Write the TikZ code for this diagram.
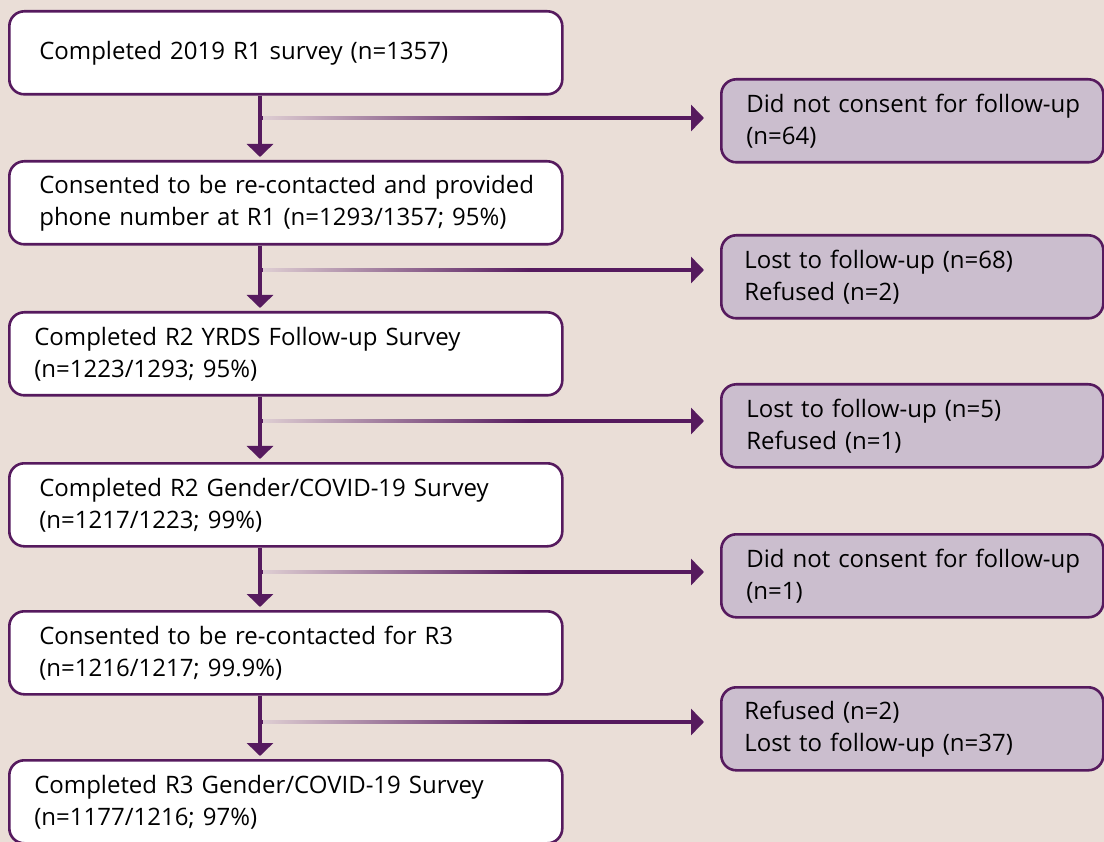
\documentclass[tikz,border=0pt]{standalone}
\usepackage{fontspec}
\setmainfont{Open Sans}
\usetikzlibrary{arrows.meta}
\definecolor{bg}{RGB}{234,222,215}
\definecolor{pp}{RGB}{86,26,94}
\definecolor{lp}{RGB}{203,190,206}
\definecolor{fade}{RGB}{222,205,210}
\newcommand{\oneline}[1]{\mbox{#1}}
\tikzset{
  x=1pt, y=-1pt,
  mainbox/.style={draw=pp, line width=2.6pt, fill=white, rounded corners=15pt,
    minimum width=553pt, minimum height=83pt, inner xsep=30pt, inner ysep=0pt,
    text width=493pt, align=left, anchor=north west,
    font=\fontsize{24}{32}\selectfont},
  sidebox/.style={draw=pp, line width=2.6pt, fill=lp, rounded corners=15pt,
    minimum width=382pt, minimum height=83pt, inner xsep=25pt, inner ysep=0pt,
    text width=332pt, align=left, anchor=north west,
    font=\fontsize{24}{32}\selectfont},
  flow/.style={draw=pp, line width=3.6pt, -{Triangle[length=13pt,width=26pt]}},
}
\begin{document}
\begin{tikzpicture}
\fill[bg] (0,0) rectangle (1104,842);
\useasboundingbox (0,0) rectangle (1104,842);
% main boxes
\node[mainbox] (m1) at (8,10) {\oneline{Completed 2019 R1 survey (n=1357)}};
\node[mainbox] (m2) at (8,160) {\oneline{Consented to be re-contacted and provided}\\\oneline{phone number at R1 (n=1293/1357; 95\%)}};
\node[mainbox, inner xsep=25pt, text width=503pt] (m3) at (8,311) {\oneline{Completed R2 YRDS Follow-up Survey}\\\oneline{(n=1223/1293; 95\%)}};
\node[mainbox] (m4) at (8,462) {\oneline{Completed R2 Gender/COVID-19 Survey}\\\oneline{(n=1217/1223; 99\%)}};
\node[mainbox] (m5) at (8,610) {\oneline{Consented to be re-contacted for R3}\\\oneline{(n=1216/1217; 99.9\%)}};
\node[mainbox, inner xsep=25pt, text width=503pt] (m6) at (8,759) {\oneline{Completed R3 Gender/COVID-19 Survey}\\\oneline{(n=1177/1216; 97\%)}};
% side boxes
\node[sidebox] (s1) at (720,78) {\oneline{Did not consent for follow-up}\\\oneline{(n=64)}};
\node[sidebox, inner xsep=23pt, text width=336pt] (s2) at (720,234) {\oneline{Lost to follow-up (n=68)}\\\oneline{Refused (n=2)}};
\node[sidebox] (s3) at (720,383) {\oneline{Lost to follow-up (n=5)}\\\oneline{Refused (n=1)}};
\node[sidebox] (s4) at (720,533) {\oneline{Did not consent for follow-up}\\\oneline{(n=1)}};
\node[sidebox, inner xsep=23pt, text width=336pt] (s5) at (720,686) {\oneline{Refused (n=2)}\\\oneline{Lost to follow-up (n=37)}};
% connectors
\foreach \a/\b/\s/\yy in {m1/m2/s1/118, m2/m3/s2/270, m3/m4/s3/421, m4/m5/s4/572, m5/m6/s5/722}{
  \coordinate (j\a) at (261,\yy);
  \draw[flow, shorten >=16pt] (j\a) -- (\s.west |- j\a);
  \shade[left color=fade, right color=pp, shading angle=90] (263,\yy-1.8) rectangle (530,\yy+1.8);
  \draw[flow, shorten >=3pt] ([xshift=-1pt]\a.south -| j\a) -- ([xshift=-1pt]\b.north -| j\a);
}
\end{tikzpicture}
\end{document}
